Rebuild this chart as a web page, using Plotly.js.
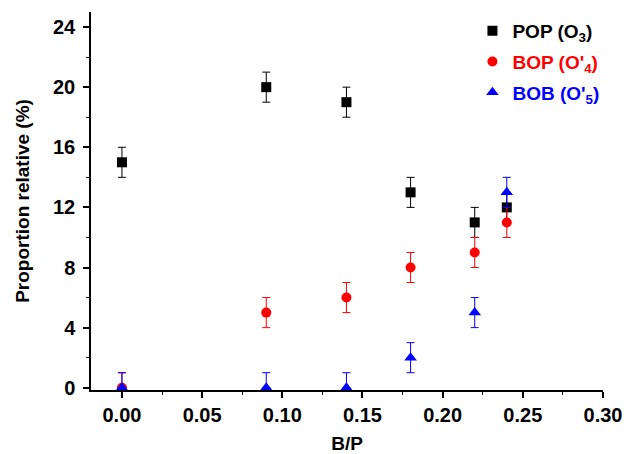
<!DOCTYPE html>
<html><head><meta charset="utf-8">
<script src="https://cdn.plot.ly/plotly-3.0.1.min.js"></script>
<style>body{margin:0;background:#fff}#c{width:624px;height:454px}</style>
</head><body><div id="c"></div>
<script>
const ratioBP = [0, 0.09, 0.14, 0.18, 0.22, 0.24];
const popVals = [15, 20, 19, 13, 11, 12];
const bopVals = [0, 5, 6, 8, 9, 11];
const bobVals = [0, 0, 0, 2, 5, 13];
const errVal = 1;
const xTickVals = [0, 0.05, 0.1, 0.15, 0.2, 0.25, 0.3];
const xTickText = ['0.00', '0.05', '0.10', '0.15', '0.20', '0.25', '0.30'];
const yTickVals = [0, 4, 8, 12, 16, 20, 24];
const names = ['POP (O<sub>3</sub>)', "BOP (O'<sub>4</sub>)", "BOB (O'<sub>5</sub>)"];
const colors = ['#000000', '#ff0000', '#0000ff'];
const symbols = ['square', 'circle', 'triangle-up'];
const series = [popVals, bopVals, bobVals];

const traces = series.map((vals, i) => ({
  x: ratioBP, y: vals, type: 'scatter', mode: 'markers',
  legendgroup: 'g' + i,
  name: '<span style="color:' + colors[i] + '">' + names[i] + '</span>',
  marker: {symbol: symbols[i], color: colors[i], size: i === 2 ? 11 : 10},
  error_y: {type: 'data', symmetric: false,
    array: vals.map(() => errVal),
    arrayminus: vals.map(v => v === 0 ? 0 : errVal),
    color: colors[i], thickness: 1, width: 4}
}));

const fam = 'Arial';
const tf = {family: fam, size: 20, weight: 700, color: '#000'};
Plotly.newPlot('c', traces, {
  width: 624, height: 454,
  font: {family: fam, size: 20, weight: 700, color: '#000'},
  margin: {l: 91, r: 21, t: 12, b: 64},
  paper_bgcolor: '#fff', plot_bgcolor: '#fff',
  showlegend: true,
  legend: {x: 0.745, y: 1.0, xanchor: 'left', yanchor: 'top',
    font: {family: fam, size: 19, weight: 700, color: '#000'}, tracegroupgap: 3, bgcolor: 'rgba(0,0,0,0)'},
  xaxis: {range: [-0.0193, 0.30], tickmode: 'array', tickvals: xTickVals, ticktext: xTickText,
    showgrid: false, zeroline: false, showline: true, linecolor: '#000', linewidth: 1.5,
    ticks: 'outside', ticklen: 6, tickwidth: 1.5, tickcolor: '#000',
    minor: {dtick: 0.025, ticks: 'outside', ticklen: 3, tickwidth: 1, tickcolor: '#000'},
    tickfont: tf,
    title: {text: 'B/P', font: {family: fam, size: 19, weight: 700, color: '#000'}, standoff: 12}},
  yaxis: {range: [-0.15, 25], tickmode: 'array', tickvals: yTickVals,
    showgrid: false, zeroline: false, showline: true, linecolor: '#000', linewidth: 1.5,
    ticks: 'outside', ticklen: 6, tickwidth: 1.5, tickcolor: '#000', ticklabelstandoff: 4,
    minor: {dtick: 2, ticks: 'outside', ticklen: 3, tickwidth: 1, tickcolor: '#000'},
    tickfont: tf,
    title: {text: 'Proportion relative (%)', font: {family: fam, size: 19, weight: 700, color: '#000'}, standoff: 18}}
}, {displayModeBar: false});
</script></body></html>
